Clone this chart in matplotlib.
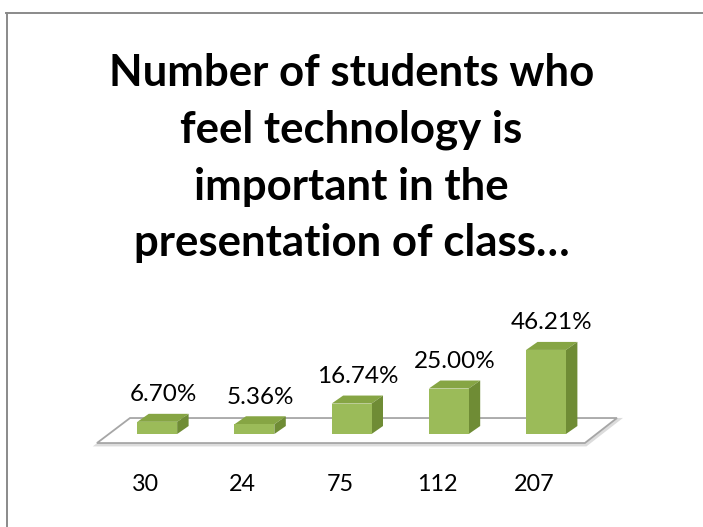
import matplotlib.pyplot as plt
from matplotlib.patches import Polygon
from matplotlib.lines import Line2D

# --- Data ---
categories = ["30", "24", "75", "112", "207"]
percents = [6.70, 5.36, 16.74, 25.00, 46.21]
labels = ["6.70%", "5.36%", "16.74%", "25.00%", "46.21%"]

front_col = "#9bbb59"
top_col = "#86a544"
side_col = "#6f8c35"

plt.rcParams["font.family"] = ["Lato", "DejaVu Sans"]

fig = plt.figure(figsize=(7.03, 5.27), dpi=100)

# frame lines around the slide
fig.add_artist(Line2D([6 / 703, 1], [0.9753, 0.9753], transform=fig.transFigure,
                      color="#8a8a8a", lw=1.4))
fig.add_artist(Line2D([0.0100, 0.0100], [0, 0.9753], transform=fig.transFigure,
                      color="#8a8a8a", lw=1.4))

fig.text(0.5, 0.700,
         "Number of students who\nfeel technology is\nimportant in the\npresentation of class…",
         ha="center", va="center", fontsize=31.5, fontweight="bold",
         linespacing=1.50, color="black")

ax = fig.add_axes([0.1545, 0.0512, 0.6913, 0.3795])
ax.set_xlim(-0.5, 4.5)
ax.set_ylim(-36.26, 73.63)
ax.axis("off")

x = list(range(len(categories)))
w = 0.41      # front face width
dx = 0.118    # depth offset (x units)
dy = 4.4      # depth offset (y units)

# --- floor ---
floor = [(-0.62, -4.95), (4.40, -4.95), (4.73, 8.79), (-0.28, 8.79)]
shadow = [(px + 0.01, py - 0.9) for px, py in floor]
ax.add_patch(Polygon(shadow, closed=True, facecolor="none",
                     edgecolor="#dcdcdc", lw=2.5, zorder=1, clip_on=False))
ax.add_patch(Polygon(floor, closed=True, facecolor="white",
                     edgecolor="#a6a6a6", lw=1.3, zorder=2, clip_on=False))

# --- bars ---
ax.bar(x, percents, width=w, color=front_col, zorder=4)
for xi, h in zip(x, percents):
    x0 = xi - w / 2
    x1 = xi + w / 2
    ax.add_patch(Polygon([(x0, h), (x1, h), (x1 + dx, h + dy), (x0 + dx, h + dy)],
                         closed=True, facecolor=top_col, edgecolor="none", zorder=3))
    ax.add_patch(Polygon([(x1, 0), (x1 + dx, dy), (x1 + dx, h + dy), (x1, h)],
                         closed=True, facecolor=side_col, edgecolor="none", zorder=3))

# --- labels ---
for xi, h, lab in zip(x, percents, labels):
    ax.annotate(lab, (xi + dx / 2, h), xytext=(0, 19.5), textcoords="offset points",
                ha="center", va="center", fontsize=17.5, color="black", zorder=5)

for xi, cat in zip(x, categories):
    ax.annotate(cat, (xi - 0.12, 0), xytext=(0, -36.5), textcoords="offset points",
                ha="center", va="center", fontsize=16.8, color="black")

plt.savefig("out.png", dpi=100)
